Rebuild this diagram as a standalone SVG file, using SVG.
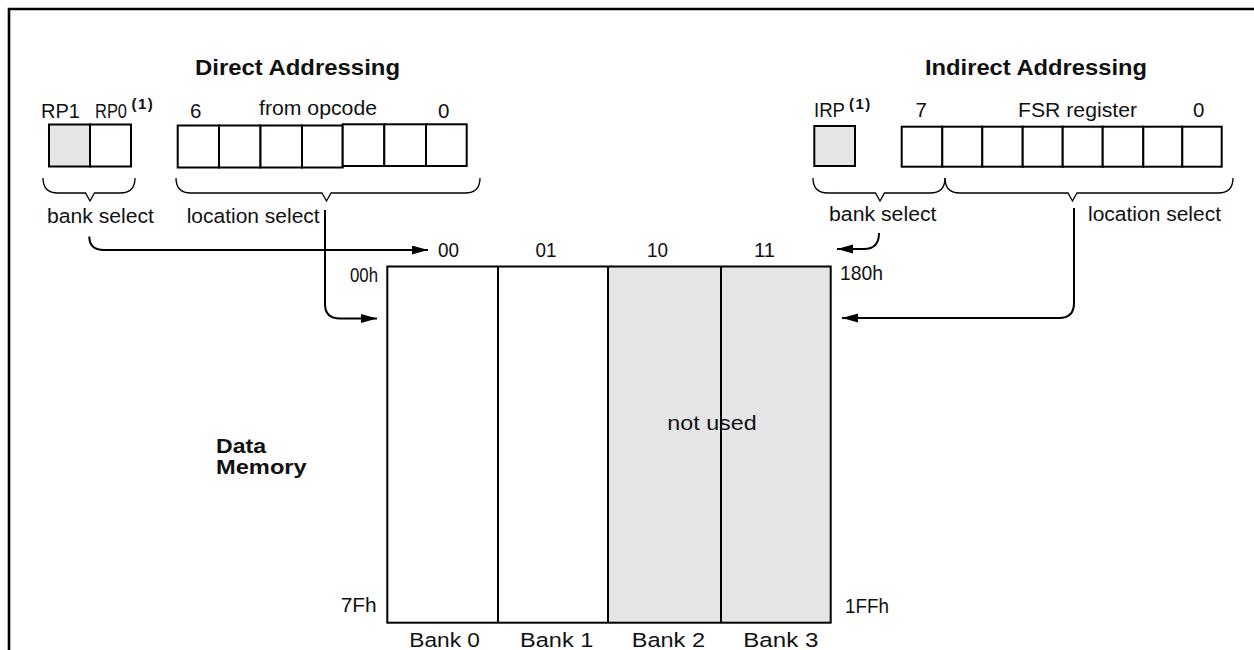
<svg xmlns="http://www.w3.org/2000/svg" width="1254" height="650" viewBox="0 0 1254 650">
<style>
text{font-family:"Liberation Sans",Arial,sans-serif;fill:#111;}
.t{font-size:20.5px;}
.b{font-size:21.5px;font-weight:bold;}
.m{font-size:20px;font-weight:bold;}
.sup{font-size:15px;font-weight:bold;letter-spacing:1.5px;}
.cell{fill:#fff;stroke:#000;stroke-width:2;}
.g{fill:#e5e5e5;}
.brace{fill:none;stroke:#000;stroke-width:1.3;}
.conn{fill:none;stroke:#000;stroke-width:2;}
.frame{fill:none;stroke:#000;stroke-width:2.6;}
</style>
<defs>
<marker id="ah" markerUnits="userSpaceOnUse" markerWidth="16" markerHeight="10" refX="16" refY="4.5" orient="auto">
<path d="M0,0 L16,4.5 L0,9 z" fill="#000"/>
</marker>
</defs>
<rect width="1254" height="650" fill="#fff"/>
<path class="frame" d="M9,650 V9 H1254"/>

<g id="direct-title"><text class="b" x="195" y="75" textLength="205" lengthAdjust="spacingAndGlyphs">Direct Addressing</text></g>
<g id="indirect-title"><text class="b" x="925" y="75" textLength="222" lengthAdjust="spacingAndGlyphs">Indirect Addressing</text></g>

<g id="rp-register">
<text class="t" x="41" y="118" textLength="39" lengthAdjust="spacingAndGlyphs">RP1</text>
<text class="t" x="95" y="118" textLength="32" lengthAdjust="spacingAndGlyphs">RP0</text>
<text class="sup" x="131.5" y="109">(1)</text>
<rect class="cell g" x="49" y="124.5" width="41" height="42"/>
<rect class="cell" x="90" y="124.5" width="41" height="42"/>
</g>

<g id="opcode-register">
<text class="t" x="190" y="118">6</text>
<text class="t" x="259" y="115" textLength="118" lengthAdjust="spacingAndGlyphs">from opcode</text>
<text class="t" x="438" y="118">0</text>
<rect class="cell" x="177.7" y="125.5" width="41.3" height="42"/>
<rect class="cell" x="219" y="125.5" width="41.5" height="42"/>
<rect class="cell" x="260.5" y="125.5" width="41.5" height="42"/>
<rect class="cell" x="302" y="125.5" width="40.7" height="42"/>
<rect class="cell" x="342.7" y="124.3" width="41.6" height="41.7"/>
<rect class="cell" x="384.3" y="124.3" width="41.7" height="41.7"/>
<rect class="cell" x="426" y="124.3" width="40.7" height="41.7"/>
</g>

<g id="irp-register">
<text class="t" x="814" y="117" textLength="31" lengthAdjust="spacingAndGlyphs">IRP</text>
<text class="sup" x="849" y="109">(1)</text>
<rect class="cell g" x="814.3" y="126" width="40.7" height="40"/>
</g>

<g id="fsr-register">
<text class="t" x="915.5" y="117">7</text>
<text class="t" x="1018" y="117" textLength="119" lengthAdjust="spacingAndGlyphs">FSR register</text>
<text class="t" x="1193" y="117">0</text>
<rect class="cell" x="901.7" y="126.7" width="40.6" height="40"/>
<rect class="cell" x="942.3" y="126.7" width="40" height="40"/>
<rect class="cell" x="982.3" y="126.7" width="40.4" height="40"/>
<rect class="cell" x="1022.7" y="126.7" width="40" height="40"/>
<rect class="cell" x="1062.7" y="126.7" width="40" height="40"/>
<rect class="cell" x="1102.7" y="126.7" width="40.6" height="40"/>
<rect class="cell" x="1143.3" y="126.7" width="39" height="40"/>
<rect class="cell" x="1182.3" y="126.7" width="39.4" height="40"/>
</g>

<g id="braces">
<path class="brace" d="M43,178 Q43,193 58,193 H85.5 L90,201 L94.5,193 H120 Q135,193 135,178"/>
<path class="brace" d="M176,178 Q176,193 191,193 H322 L326.5,201 L331,193 H465 Q480,193 480,178"/>
<path class="brace" d="M813,178 Q813,193 828,193 H875.5 L880,201 L884.5,193 H930 Q945,193 945,178"/>
<path class="brace" d="M945,178 Q945,193 960,193 H1068 L1072.5,201 L1077,193 H1218 Q1233,193 1233,178"/>
</g>

<g id="select-labels">
<text class="t" x="47" y="222.5" textLength="107" lengthAdjust="spacingAndGlyphs">bank select</text>
<text class="t" x="186.7" y="222.5" textLength="133" lengthAdjust="spacingAndGlyphs">location select</text>
<text class="t" x="829" y="221" textLength="107.5" lengthAdjust="spacingAndGlyphs">bank select</text>
<text class="t" x="1088" y="221" textLength="133" lengthAdjust="spacingAndGlyphs">location select</text>
</g>

<g id="data-memory">
<rect class="g" x="608" y="266.5" width="222.7" height="356.2"/>
<text class="t" x="667.3" y="430" textLength="89.4" lengthAdjust="spacingAndGlyphs">not used</text>
<rect fill="none" stroke="#000" stroke-width="2" x="387.3" y="266.5" width="443.4" height="356.2"/>
<path fill="none" stroke="#000" stroke-width="2" d="M498,266.5 V622.7 M608,266.5 V622.7 M721,266.5 V622.7"/>
<text class="t" x="438" y="257" textLength="21" lengthAdjust="spacingAndGlyphs">00</text>
<text class="t" x="535.5" y="257" textLength="21" lengthAdjust="spacingAndGlyphs">01</text>
<text class="t" x="647" y="257" textLength="21" lengthAdjust="spacingAndGlyphs">10</text>
<text class="t" x="754" y="257" textLength="21" lengthAdjust="spacingAndGlyphs">11</text>
<text class="t" x="350" y="281.5" textLength="28" lengthAdjust="spacingAndGlyphs">00h</text>
<text class="t" x="840" y="280" textLength="43" lengthAdjust="spacingAndGlyphs">180h</text>
<text class="t" x="340.7" y="611.7" textLength="36" lengthAdjust="spacingAndGlyphs">7Fh</text>
<text class="t" x="845" y="613" textLength="44" lengthAdjust="spacingAndGlyphs">1FFh</text>
<text class="t" x="409.3" y="647" textLength="70.7" lengthAdjust="spacingAndGlyphs">Bank 0</text>
<text class="t" x="520" y="647" textLength="73.3" lengthAdjust="spacingAndGlyphs">Bank 1</text>
<text class="t" x="631.7" y="647" textLength="73.3" lengthAdjust="spacingAndGlyphs">Bank 2</text>
<text class="t" x="743.3" y="647" textLength="75" lengthAdjust="spacingAndGlyphs">Bank 3</text>
</g>

<g id="data-memory-label">
<text class="m" x="216" y="453" textLength="50" lengthAdjust="spacingAndGlyphs">Data</text>
<text class="m" x="216" y="474" textLength="90.7" lengthAdjust="spacingAndGlyphs">Memory</text>
</g>

<g id="connectors">
<path class="conn" d="M89.3,236.5 Q89.3,250 104,250 H428" marker-end="url(#ah)"/>
<path class="conn" d="M325,210 V304 Q325,318.5 340,318.5 H377" marker-end="url(#ah)"/>
<path class="conn" d="M879,233 Q879,249 864,249 H837" marker-end="url(#ah)"/>
<path class="conn" d="M1074,208 V303 Q1074,318 1059,318 H842" marker-end="url(#ah)"/>
</g>
</svg>
